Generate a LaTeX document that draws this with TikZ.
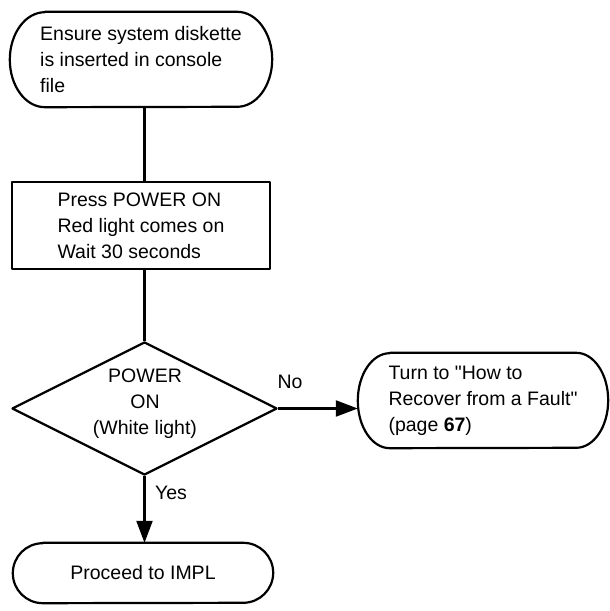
\documentclass[tikz,border=0pt]{standalone}
\usepackage{fontspec}
\setmainfont{Liberation Sans}[Ligatures=TeXOff]
\usetikzlibrary{arrows.meta,shapes.geometric}

% Outline of a terminal (start/end) box: straight top and bottom, elliptic ends
\newcommand\terminaloutline[3]{% node, x radius, y radius
  \draw[outline] ([xshift=#2]#1.north west) -- ([xshift=-#2]#1.north east)
    arc[start angle=90,end angle=-90,x radius=#2,y radius=#3]
    -- ([xshift=#2]#1.south west)
    arc[start angle=270,end angle=90,x radius=#2,y radius=#3] -- cycle;}

\begin{document}
\begin{tikzpicture}[x=1pt,y=1pt,
  outline/.style={draw=black,line width=2.2pt,line join=round},
  txt/.style={font=\fontsize{19.5}{26}\selectfont,text=black},
  termnode/.style={txt,align=left,inner sep=0pt},
  stepbox/.style={txt,outline,rectangle,align=left,inner sep=0pt},
  decision/.style={outline,diamond,inner sep=0pt},
  flow/.style={line width=2.2pt,draw=black},
  arrowflow/.style={flow,-{Triangle[length=22pt,width=16pt]}}]

\useasboundingbox[fill=white] (0,0) rectangle (610,611);

% start
\node[termnode,minimum width=262pt,minimum height=95pt] (start) at (141,551.5)
  {Ensure system diskette\\is inserted in console\\file};
\terminaloutline{start}{35pt}{47.5pt}

% power on step
\node[stepbox,minimum width=258pt,minimum height=87pt] (press) at (141,385.5)
  {Press POWER ON\\Red light comes on\\Wait 30 seconds};

% decision
\node[decision,minimum width=265pt,minimum height=133pt] (check) at (144.5,202.5) {};
\node[txt,align=center,inner sep=0pt] (checktext) at (145,207)
  {POWER\\ON\\(White light)};

% fault branch
\node[termnode,minimum width=250pt,minimum height=95pt] (fault) at (483,210.5)
  {Turn to "How to\\Recover from a Fault"\\(page \textbf{67})};
\terminaloutline{fault}{32pt}{47.5pt}

% end
\node[termnode,minimum width=260pt,minimum height=60pt] (impl) at (143,38)
  {Proceed to IMPL};
\terminaloutline{impl}{30pt}{30pt}

% connectors
\draw[flow] (check.north |- start.south) -- (check.north |- press.north);
\draw[flow] (check.north |- press.south) -- (check.north);
\draw[arrowflow] (check.east) -- (check.east -| fault.west);
\draw[arrowflow] (check.south) -- (check.south |- impl.north);

% branch labels
\node[txt,inner sep=0pt] (nolabel) at (290,229) {No};
\node[txt,inner sep=0pt] (yeslabel) at (171,118) {Yes};
\end{tikzpicture}
\end{document}
